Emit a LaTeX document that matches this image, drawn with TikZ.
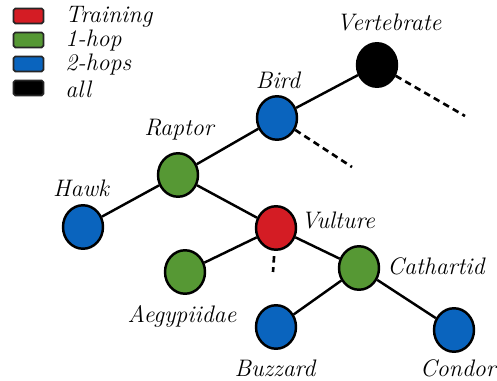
\documentclass[tikz,border=0pt]{standalone}
\usepackage{tikz}
\usetikzlibrary{shapes.geometric,positioning}
\definecolor{trainred}{RGB}{212,28,36}
\definecolor{hopgreen}{RGB}{86,152,52}
\definecolor{hopblue}{RGB}{10,100,190}
\begin{document}
\begin{tikzpicture}[
    x=0.02cm, y=-0.02cm,
    tax/.style={draw, ellipse, line width=1.4pt, minimum width=0.8cm, minimum height=0.87cm, inner sep=0pt},
    lgd/.style={draw=black!85, line width=1pt, rounded corners=1pt, minimum width=0.6cm, minimum height=0.3cm, inner sep=0pt},
    txt/.style={font=\fontsize{13.6}{16}\selectfont\itshape, inner sep=0pt},
    edge/.style={line width=1.4pt},
    cut/.style={line width=1.5pt, dash pattern=on 0.13cm off 0.09cm}
]
\useasboundingbox (0,0) rectangle (497,381);
% legend
\node[lgd, fill=trainred] (ltr) at (28.5,16) {};
\node[lgd, fill=hopgreen] (lone) at (28.5,40) {};
\node[lgd, fill=hopblue] (ltwo) at (28.5,64) {};
\node[lgd, fill=black] (lall) at (28.5,88) {};
\node[txt, anchor=west] at (65,17) {Training};
\node[txt, anchor=west] at (65,41) {1-hop};
\node[txt, anchor=west] at (65,65) {2-hops};
\node[txt, anchor=west] at (65,89) {all};

% taxonomy nodes
\node[tax, fill=black] (vert) at (377,65) {};
\node[tax, fill=hopblue] (bird) at (277,118) {};
\node[tax, fill=hopgreen] (rapt) at (178,175) {};
\node[tax, fill=hopblue] (hawk) at (83,227) {};
\node[tax, fill=trainred] (vult) at (276,228) {};
\node[tax, fill=hopgreen] (aegy) at (185,272) {};
\node[tax, fill=hopgreen] (cath) at (359,268) {};
\node[tax, fill=hopblue] (buzz) at (276,327) {};
\node[tax, fill=hopblue] (cond) at (454,330) {};

\node[txt] (tvert) at (389,22) {Vertebrate};
\node[txt] (tbird) at (278,80) {Bird};
\node[txt] (trapt) at (179,130) {Raptor};
\node[txt] (thawk) at (81,188) {Hawk};
\node[txt] (tvult) at (338,220) {Vulture};
\node[txt] (taegy) at (182,316) {Aegypiidae};
\node[txt] (tcath) at (436,266) {Cathartid};
\node[txt] (tbuzz) at (275,368) {Buzzard};
\node[txt] (tcond) at (458,368) {Condor};

% loose ends
\coordinate (vertend) at (465,116);
\coordinate (birdend) at (352,167);
\coordinate (vultend) at (273,272);

\draw[edge] (vert) -- (bird);
\draw[edge] (bird) -- (rapt);
\draw[edge] (rapt) -- (hawk);
\draw[edge] (rapt) -- (vult);
\draw[edge] (vult) -- (aegy);
\draw[edge] (vult) -- (cath);
\draw[edge] (cath) -- (buzz);
\draw[edge] (cath) -- (cond);
\draw[cut] (vert) -- (vertend);
\draw[cut] (bird) -- (birdend);
\draw[cut, shorten <=3pt] (vult) -- (vultend);
\end{tikzpicture}
\end{document}
